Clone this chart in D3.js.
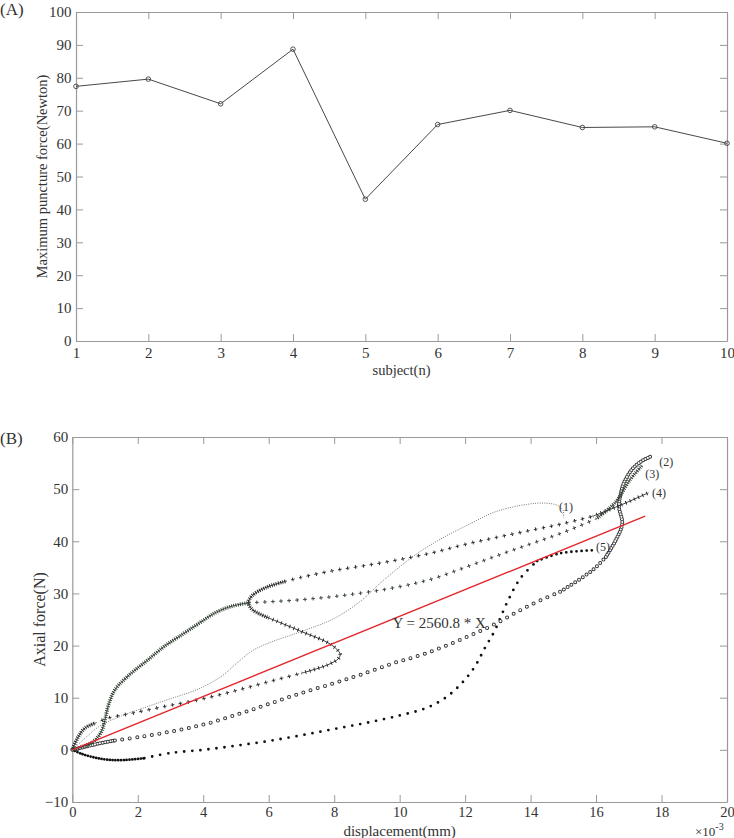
<!DOCTYPE html>
<html><head><meta charset="utf-8">
<script src="https://cdn.jsdelivr.net/npm/d3@7/dist/d3.min.js"></script>
<style>
body{margin:0;background:#fff}
svg{display:block}
text{font-family:"Liberation Serif","Times New Roman",serif;fill:#333}
</style>
</head><body>
<svg id="c" width="734" height="838"></svg>
<script>
// ---------- Panel A data ----------
const subjects = [1,2,3,4,5,6,7,8,9,10];
const maxForce = [77.4,79.6,72.1,88.7,43.1,65.8,70.1,64.9,65.1,60.1];
const forceTicks = [0,10,20,30,40,50,60,70,80,90,100];

// ---------- Panel B data (displacement in 1e-3 mm, force in N) ----------
const dispTicks = [0,2,4,6,8,10,12,14,16,18,20];
const axialTicks = [-10,0,10,20,30,40,50,60];
const fitSlope = 2560.8;
const fitRange = [0, 17.5];

const curve1 = [[0,0],[0.4,2.3],[0.8,4.4],[1.5,6.5],[2.3,8.3],[2.9,9.6],[3.9,11.8],[4.6,14.3],[5.0,16.5],[5.5,19],[6,20.5],[7,22.7],[8,25.2],[8.8,28.5],[9.5,32.5],[10.5,37.5],[11.3,40.6],[12.2,43.5],[12.9,45.6],[13.9,47.1],[14.5,47.3],[14.85,46.8],[15.0,45.8],[15.0,44.6]];

const curve2 = [[0,0],[0.4,0.6],[0.8,1.2],[1.3,1.8],[2.07,2.5],[3.09,3.6],[4.1,5.0],[5.1,6.9],[6,8.8],[7,10.9],[8,12.8],[8.8,14.4],[9.8,16.6],[10.8,18.5],[11.85,21.1],[12.87,24],[13.9,27.5],[14.9,30.3],[15.9,34.5],[16.3,37],[16.6,40.2],[16.8,43.4],[16.7,46.6],[16.75,49],[16.85,51.2],[17.1,53.8],[17.35,55.2],[17.65,56.2]];
const curve2Breaks = [[0,3,"dense"],[3,17,"sparse"],[17,19,"mid"],[19,27,"dense"]];

const curve3 = [[0,0],[0.3,0.6],[0.6,1.4],[0.8,2.6],[0.92,4],[1.0,5.8],[1.1,8.5],[1.3,11.5],[1.8,14.7],[2.3,17.2],[2.8,19.8],[3.4,22.3],[3.9,24.4],[4.4,26.4],[4.9,27.6],[5.4,28.2],[7,28.8],[8.5,29.8],[10,31.3],[11,32.8],[12,35],[13,37.3],[14,39.5],[15,41.7],[16,44.3],[16.6,47.5],[17,51.5],[17.4,54.5]];
const curve3Breaks = [[0,15,"dense"],[15,24,"sparse"],[24,27,"dense"]];

const curve4 = [[0,0],[0.18,2.5],[0.39,4.2],[0.69,5.1],[1.1,6.1],[1.8,7.0],[2.8,8.3],[3.85,9.6],[4.9,11.2],[5.9,12.9],[7,14.7],[7.8,16.3],[8.13,17.5],[8.18,18.4],[7.9,20.2],[7,22.7],[6,25.3],[5.5,26.9],[5.38,28.3],[5.5,29.6],[5.9,31.1],[6.5,32.3],[7,33.1],[8,34.4],[9,35.4],[10,36.5],[11,37.8],[12,39.4],[13,40.8],[14,42.1],[15,43.4],[15.9,44.8],[16.7,46.8],[17.6,49.3]];
const curve4Breaks = [[0,3,"dense"],[3,10,"sparse"],[10,16,"mid"],[16,21,"dense"],[21,31,"sparse"],[31,33,"mid"]];

const curve5 = [[0,0],[0.3,-0.8],[0.7,-1.5],[1.1,-1.9],[1.6,-1.95],[2.2,-1.6],[3,-0.6],[4,0.0],[5,0.8],[6,1.7],[7,2.8],[8,4.0],[9,5.2],[10,6.6],[10.8,8],[11.4,10],[11.9,12.8],[12.3,16],[12.6,19.5],[12.9,22.8],[13.3,28.5],[13.7,33],[14.2,36.2],[14.9,37.7],[16,38.3]];
const curve5Breaks = [[0,5,"dense"],[5,22,"sparse"],[22,24,"mid"]];

const curveLabels = ["(1)","(2)","(3)","(4)","(5)"];
const curveLabelAt = [[14.87,45.8],[17.93,54.4],[17.5,52.1],[17.71,48.5],[16.0,38.1]];
const fitLabel = "Y = 2560.8 * X";
const fitLabelAt = [9.78,23.4];

// ---------- drawing ----------
const svg = d3.select("#c");
const AX = "#9a9a9a";

function styleAxis(g){
  g.select(".domain").attr("stroke",AX).attr("stroke-width",1.2);
  g.selectAll(".tick line").attr("stroke",AX).attr("stroke-width",1);
  g.selectAll(".tick text").attr("fill","#333");
}

// ===== Panel A =====
{
  const L=76,R=727,T=12,B=341;
  const x = d3.scaleLinear().domain([1,10]).range([L,R]);
  const y = d3.scaleLinear().domain([0,100]).range([B,T]);
  const g = svg.append("g");
  const fs = "15px";
  g.append("g").attr("transform",`translate(0,${B})`)
    .call(d3.axisBottom(x).tickValues(subjects).tickFormat(d3.format("d")).tickSizeInner(-7).tickSizeOuter(0).tickPadding(6))
    .call(styleAxis).selectAll("text").attr("font-size",fs);
  g.append("g").attr("transform",`translate(0,${T})`)
    .call(d3.axisTop(x).tickValues(subjects).tickFormat("").tickSizeInner(-7).tickSizeOuter(0)).call(styleAxis);
  g.append("g").attr("transform",`translate(${L},0)`)
    .call(d3.axisLeft(y).tickValues(forceTicks).tickFormat(d3.format("d")).tickSizeInner(-7).tickSizeOuter(0).tickPadding(4.5))
    .call(styleAxis).selectAll("text").attr("font-size",fs);
  g.append("g").attr("transform",`translate(${R},0)`)
    .call(d3.axisRight(y).tickValues(forceTicks).tickFormat("").tickSizeInner(-7).tickSizeOuter(0)).call(styleAxis);

  const data = subjects.map((s,i)=>[s,maxForce[i]]);
  g.append("path").datum(data).attr("fill","none").attr("stroke","#333").attr("stroke-width",0.9)
    .attr("d",d3.line().x(d=>x(d[0])).y(d=>y(d[1])));
  g.selectAll("circle.m").data(data).join("circle").attr("class","m")
    .attr("cx",d=>x(d[0])).attr("cy",d=>y(d[1])).attr("r",2.3)
    .attr("fill","none").attr("stroke","#444").attr("stroke-width",0.9);

  g.append("text").attr("x",(L+R)/2).attr("y",375).attr("text-anchor","middle").attr("font-size","14.5px").text("subject(n)");
  g.append("text").attr("transform",`translate(47,${(T+B)/2}) rotate(-90)`).attr("text-anchor","middle").attr("font-size","14.5px").text("Maximum puncture force(Newton)");
  g.append("text").attr("x",0).attr("y",15).attr("font-size","17px").text("(A)");
}

// ===== Panel B =====
{
  const L=72.3,R=727,T=437,B=802;
  const x = d3.scaleLinear().domain([0,20]).range([L,R]);
  const y = d3.scaleLinear().domain([-10,60]).range([B,T]);
  const g = svg.append("g");
  const fs = "14.5px";
  g.append("g").attr("transform",`translate(0,${B})`)
    .call(d3.axisBottom(x).tickValues(dispTicks).tickFormat(d3.format("d")).tickSizeInner(-7).tickSizeOuter(0).tickPadding(5))
    .call(styleAxis).selectAll("text").attr("font-size",fs);
  g.append("g").attr("transform",`translate(0,${T})`)
    .call(d3.axisTop(x).tickValues(dispTicks).tickFormat("").tickSizeInner(-7).tickSizeOuter(0)).call(styleAxis);
  g.append("g").attr("transform",`translate(${L},0)`)
    .call(d3.axisLeft(y).tickValues(axialTicks).tickFormat(d3.format("d")).tickSizeInner(-7).tickSizeOuter(0).tickPadding(4))
    .call(styleAxis).selectAll("text").attr("font-size","15px");
  g.append("g").attr("transform",`translate(${R},0)`)
    .call(d3.axisRight(y).tickValues(axialTicks).tickFormat("").tickSizeInner(-7).tickSizeOuter(0)).call(styleAxis);

  const line = d3.line().x(d=>x(d[0])).y(d=>y(d[1])).curve(d3.curveCatmullRom.alpha(0.5));
  const spacingOf = {dense:2.2, mid:4.5, sparse:7.5};

  function drawMarked(pts, breaks, type, color){
    breaks.forEach(([a,b,kind])=>{
      const seg = pts.slice(a,b+1);
      const d = line(seg);
      const s = spacingOf[kind];
      if(type==="dot"){
        g.append("path").attr("d",d).attr("fill","none").attr("stroke",color)
          .attr("stroke-width",2.8).attr("stroke-linecap","round").attr("stroke-dasharray",`0 ${s+0.6}`);
      } else if(type==="ring"){
        const ss = kind==="dense"?2.6:s;
        g.append("path").attr("d",d).attr("fill","none").attr("stroke",color)
          .attr("stroke-width",4.0).attr("stroke-linecap","round").attr("stroke-dasharray",`0 ${ss}`);
        g.append("path").attr("d",d).attr("fill","none").attr("stroke","#fff")
          .attr("stroke-width",2.1).attr("stroke-linecap","round").attr("stroke-dasharray",`0 ${ss}`);
      } else if(type==="plus"){
        const ss = kind==="sparse"?8:s;
        g.append("path").attr("d",d).attr("fill","none").attr("stroke",color)
          .attr("stroke-width",3.8).attr("stroke-dasharray",`0.9 ${ss-0.9}`).attr("stroke-dashoffset",0.45);
        if(ss>4.5){
          g.append("path").attr("d",d).attr("fill","none").attr("stroke",color)
            .attr("stroke-width",0.9).attr("stroke-dasharray",`3.8 ${ss-3.8}`).attr("stroke-dashoffset",1.9);
        } else {
          g.append("path").attr("d",d).attr("fill","none").attr("stroke",color).attr("stroke-width",0.9);
        }
      }
    });
  }

  // (1) thin dotted
  g.append("path").attr("d",line(curve1)).attr("fill","none").attr("stroke","#6a6a6a")
    .attr("stroke-width",0.9).attr("stroke-dasharray","1 1.3");
  // (5) filled dots
  drawMarked(curve5, curve5Breaks, "dot", "#111");
  // (2) open circles
  drawMarked(curve2, curve2Breaks, "ring", "#333");
  // (4) plus
  drawMarked(curve4, curve4Breaks, "plus", "#222");
  // (3) cross
  drawMarked(curve3, curve3Breaks, "plus", "#2c3a2c");

  // fit line
  const fit = fitRange.map(v=>[v, fitSlope*v*1e-3]);
  g.append("path").datum(fit).attr("fill","none").attr("stroke","#e3262c").attr("stroke-width",1.4)
    .attr("d",d3.line().x(d=>x(d[0])).y(d=>y(d[1])));

  g.append("text").attr("x",x(fitLabelAt[0])).attr("y",y(fitLabelAt[1])).attr("font-size","15px").attr("fill","#222").text(fitLabel);
  curveLabels.forEach((t,i)=>{
    g.append("text").attr("x",x(curveLabelAt[i][0])).attr("y",y(curveLabelAt[i][1])).attr("font-size","12px").attr("fill","#333").text(t);
  });

  g.append("text").attr("x",(L+R)/2).attr("y",836).attr("text-anchor","middle").attr("font-size","15px").text("displacement(mm)");
  const e = g.append("text").attr("x",695).attr("y",836).attr("font-size","13px");
  e.append("tspan").text("×10");
  e.append("tspan").attr("dy",-6).attr("font-size","10px").text("-3");
  g.append("text").attr("transform",`translate(45,${(T+B)/2}) rotate(-90)`).attr("text-anchor","middle").attr("font-size","16px").text("Axial force(N)");
  g.append("text").attr("x",0).attr("y",444).attr("font-size","17px").text("(B)");
}
</script>
</body></html>
